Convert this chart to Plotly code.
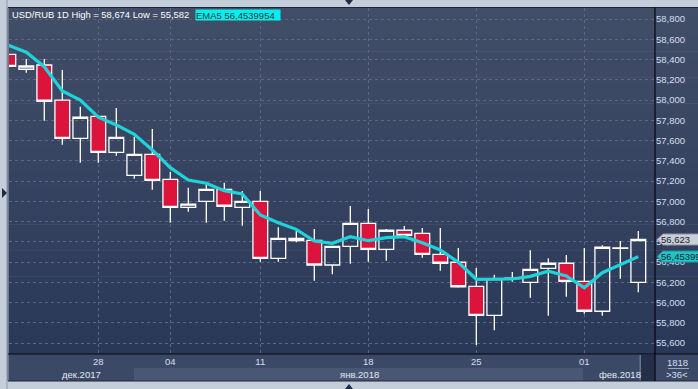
import plotly.graph_objects as go

# ---------------- data ----------------
bar_index = list(range(36))
opens = [58.452, 58.304, 58.346, 57.999, 57.622, 57.839, 57.484, 57.257, 57.464, 57.217,
         56.941, 57.000, 57.118, 56.941, 57.000, 56.437, 56.634, 56.615, 56.371, 56.555,
         56.783, 56.526, 56.714, 56.684, 56.476, 56.398, 56.160, 55.874, 56.236, 56.200,
         56.338, 56.388, 56.210, 55.914, 56.536, 56.200]
highs = [58.470, 58.405, 58.405, 58.297, 57.934, 57.852, 57.921, 57.638, 57.714, 57.289,
         57.134, 57.168, 57.184, 57.102, 57.102, 56.743, 56.707, 56.726, 56.560, 56.954,
         56.925, 56.726, 56.756, 56.736, 56.736, 56.539, 56.341, 56.274, 56.302, 56.516,
         56.437, 56.470, 56.539, 56.566, 56.608, 56.707]
lows = [58.320, 58.270, 57.796, 57.559, 57.381, 57.381, 57.450, 57.223, 57.114, 56.789,
        56.897, 56.789, 56.808, 56.759, 56.403, 56.403, 56.595, 56.216, 56.279, 56.384,
        56.403, 56.413, 56.650, 56.443, 56.315, 56.146, 55.582, 55.726, 56.206, 56.048,
        55.870, 56.058, 55.890, 55.870, 56.236, 56.101]
closes = [58.333, 58.336, 57.988, 57.622, 57.830, 57.484, 57.632, 57.464, 57.207, 56.941,
          56.973, 57.118, 56.951, 57.000, 56.437, 56.634, 56.611, 56.371, 56.555, 56.783,
          56.526, 56.714, 56.664, 56.476, 56.388, 56.156, 55.874, 56.236, 56.240, 56.328,
          56.388, 56.210, 55.914, 56.546, 56.540, 56.623]
ema5 = [58.542, 58.472, 58.329, 58.089, 58.000, 57.830, 57.754, 57.662, 57.507, 57.332,
        57.210, 57.178, 57.105, 57.072, 56.865, 56.789, 56.723, 56.608, 56.585, 56.651,
        56.611, 56.641, 56.651, 56.590, 56.519, 56.398, 56.230, 56.230, 56.233, 56.259,
        56.309, 56.262, 56.147, 56.295, 56.374, 56.4539954]

x_tick_index = [5, 9, 14, 20, 26, 32]
x_tick_text = ["28", "04", "11", "18", "25", "01"]
month_labels = ["дек.2017", "янв.2018", "фев.2018"]
y_tick_values = [55.6 + 0.2 * k for k in range(17)]
header_high = 58.674
header_low = 55.582
bar_count_label = "1818"


def fmt(v, d=3):
    return f"{v:.{d}f}".replace(".", ",")


y_tick_text = [fmt(v) for v in y_tick_values]

# ---------------- geometry helpers (pixels -> paper) ----------------
W, H = 698, 389
L, R, T, B = 9, 655, 8, 354


def xp(px):
    return (px - L) / (R - L)


def yp(py):
    return (B - py) / (B - T)


FONT = "Liberation Sans"
LABEL_COLOR = "#d3dff0"

fig = go.Figure()

fig.add_trace(go.Candlestick(
    x=bar_index, open=opens, high=highs, low=lows, close=closes,
    increasing=dict(line=dict(color="white", width=1.3), fillcolor="rgba(0,0,0,0)"),
    decreasing=dict(line=dict(color="white", width=1.3), fillcolor="#dc143c"),
    whiskerwidth=0, showlegend=False, hoverinfo="skip",
))

fig.add_trace(go.Scatter(
    x=bar_index, y=ema5, mode="lines",
    line=dict(color="#1fd3da", width=3.2), showlegend=False, hoverinfo="skip",
))

shapes = []
# background gradient (plot + right axis panel)
top_c = (66, 78, 104)
bot_c = (42, 56, 88)
N = 40
for k in range(N):
    a = T + (B - T) * k / N
    b = T + (B - T) * (k + 1) / N + 0.6
    t = (k + 0.5) / N
    c = tuple(round(top_c[j] + (bot_c[j] - top_c[j]) * t) for j in range(3))
    shapes.append(dict(type="rect", xref="paper", yref="paper", layer="below",
                       x0=xp(L), x1=xp(W + 1), y0=yp(b), y1=yp(a),
                       fillcolor="rgb(%d,%d,%d)" % c, line=dict(width=0)))


# bottom axis bands
def rect(x0, x1, y0, y1, color, layer="below"):
    shapes.append(dict(type="rect", xref="paper", yref="paper", layer=layer,
                       x0=xp(x0), x1=xp(x1), y0=yp(y1), y1=yp(y0),
                       fillcolor=color, line=dict(width=0)))


rect(L, W + 1, B, 381, "#3c4966")
rect(134, 583, 368, 381, "#4a5774")
rect(641, 655, 355, 381, "#243049")
rect(639.5, 641, 355, 381, "#6a7690")


# frame lines
def line(x0, y0, x1, y1, color, width=1):
    shapes.append(dict(type="line", xref="paper", yref="paper", layer="above",
                       x0=xp(x0), x1=xp(x1), y0=yp(y0), y1=yp(y1),
                       line=dict(color=color, width=width)))


line(8, 7.5, W + 1, 7.5, "#1c2434")
line(8, 7.5, 8, 381, "#1c2434")
line(8, 381, W + 1, 381, "#1c2434")
line(8, B, W + 1, B, "#05080e", 1.2)
line(R, 7.5, R, 381, "#05080e", 1.2)
line(668, 368.5, 689, 368.5, "#9aa6bb")
line(7, 0, 7, 389, "#8d98a8")


# small navigation triangles
def tri(pts, color="#1e2b44"):
    path = "M " + " L ".join("%f,%f" % (xp(a), yp(b)) for a, b in pts) + " Z"
    shapes.append(dict(type="path", xref="paper", yref="paper", layer="above",
                       path=path, fillcolor=color, line=dict(width=0)))


tri([(345, 0), (353, 0), (349, 5)])
tri([(345, 389), (353, 389), (349, 384)])
tri([(2, 188), (2, 198), (7, 193)])


# price tags (anchored to the last close and last EMA value)
def tag(value, fill, edge):
    path = "M 2,0 L 8,5.5 L 60,5.5 L 60,-5.5 L 8,-5.5 Z"
    shapes.append(dict(type="path", xref="paper", yref="y", layer="above",
                       xsizemode="pixel", ysizemode="pixel", xanchor=1, yanchor=value,
                       path=path, fillcolor=fill, line=dict(color=edge, width=1)))


tag(closes[-1], "#c9ced8", "#8e96a6")
tag(ema5[-1], "#22c4c8", "#169aa0")

annotations = []


def text(s, px, py, color=LABEL_COLOR, size=9.5, anchor="center", yref_val=None, **kw):
    a = dict(text=s, xref="paper", x=xp(px), xanchor=anchor, yanchor="middle",
             showarrow=False, font=dict(family=FONT, size=size, color=color))
    if yref_val is None:
        a.update(yref="paper", y=yp(py))
    else:
        a.update(yref="y", y=yref_val)
    a.update(kw)
    annotations.append(a)


text("USD/RUB 1D High = %s Low = %s" % (fmt(header_high), fmt(header_low)), 10, 14.5,
     color="white", anchor="left", size=9.4)
text("EMA5 %s" % fmt(ema5[-1], 7), 195, 14.5, color="#333333", anchor="left",
     bgcolor="#00f0f0", width=84, height=10, align="left", borderpad=0)
text(fmt(closes[-1]), 659, 0, color="#1b1f2a", anchor="left", yref_val=closes[-1])
text(fmt(ema5[-1], 7), 659, 0, color="#13242a", anchor="left", yref_val=ema5[-1])

text(month_labels[0], 81, 374, color="#e2e8f2")
text(month_labels[1], 359, 374, color="#e2e8f2")
text(month_labels[2], 620, 374, color="#e2e8f2")
text(bar_count_label, 677, 362, color=LABEL_COLOR)
text(">%d<" % len(bar_index), 677, 374.5, color=LABEL_COLOR)

fig.update_layout(
    width=W, height=H,
    margin=dict(l=L, r=W - R, t=T, b=H - B, pad=0),
    paper_bgcolor="#c4cedb",
    plot_bgcolor="rgba(0,0,0,0)",
    boxgap=0.18,
    boxgroupgap=0,
    shapes=shapes,
    annotations=annotations,
    xaxis=dict(
        range=[0.039, 35.928], rangeslider=dict(visible=False),
        tickvals=x_tick_index, ticktext=x_tick_text, ticks="",
        showgrid=True, gridcolor="#5a6888", griddash="3px,3px", gridwidth=1,
        zeroline=False, showline=False,
        tickfont=dict(family=FONT, size=9.5, color=LABEL_COLOR),
    ),
    yaxis=dict(
        range=[55.492, 58.909], side="right",
        tickvals=y_tick_values, ticktext=y_tick_text, ticks="",
        showgrid=True, gridcolor="#5a6888", griddash="3px,3px", gridwidth=1,
        zeroline=False, showline=False,
        tickfont=dict(family=FONT, size=9.5, color=LABEL_COLOR),
    ),
    hovermode=False,
)

fig.write_html("out.html")
